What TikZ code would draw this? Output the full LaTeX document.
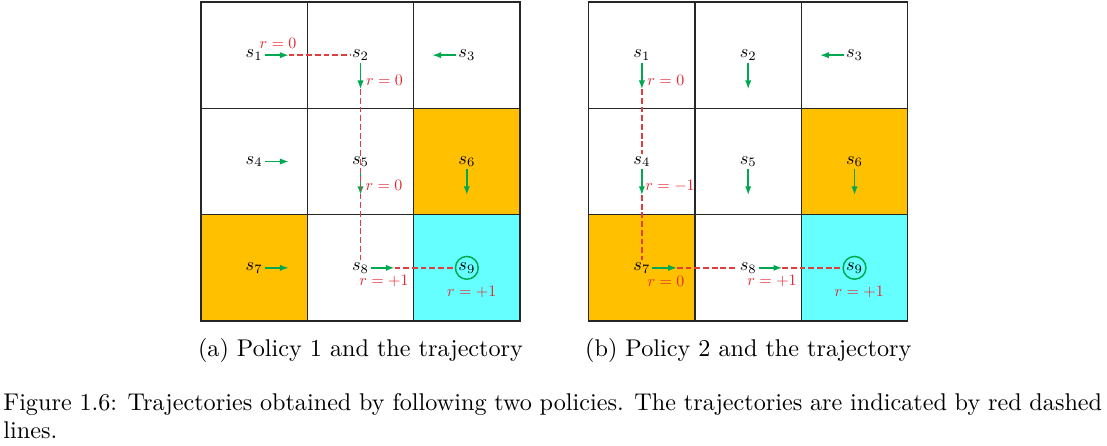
\documentclass[tikz,border=0pt]{standalone}
\usetikzlibrary{arrows.meta}
\definecolor{cellorange}{RGB}{255,192,0}
\definecolor{cellcyan}{RGB}{102,255,255}
\definecolor{polgreen}{RGB}{0,168,80}
\definecolor{trajred}{RGB}{226,40,50}
\definecolor{dashred}{RGB}{222,62,62}
\tikzset{
  gridline/.style={line width=0.6pt, draw=black!85},
  pol/.style={polgreen, line width=0.6pt, -{Latex[length=3.6pt,width=2.6pt]}},
  traj/.style={dashred, line width=0.65pt, dash pattern=on 2.4pt off 1.2pt},
  st/.style={inner sep=1pt, scale=0.76, font=\normalsize},
  rew/.style={inner sep=0pt, scale=0.66, text=trajred, font=\normalsize},
  goal/.style={circle, draw=polgreen, line width=0.6pt, scale=0.76, minimum size=12.4pt, inner sep=0pt, font=\normalsize},
  capt/.style={inner sep=0pt, anchor=base, font=\normalsize}
}
\begin{document}
\begin{tikzpicture}[x=0.4135pt, y=-0.4135pt]
\useasboundingbox (0,0) rectangle (1107,445);
\fill[white] (0,0) rectangle (1107,445);

% ---------------- grid (a) ----------------
\fill[cellorange] (413.67,108.33) rectangle (520,214.67);
\fill[cellorange] (201,214.67) rectangle (307.33,321);
\fill[cellcyan] (413.67,214.67) rectangle (520,321);
\foreach \x in {307.33,413.67} \draw[gridline] (\x,2) -- (\x,321);
\foreach \y in {108.33,214.67} \draw[gridline] (201,\y) -- (520,\y);
\draw[gridline] (201,2) rectangle (520,321);

\node[st] (a1) at (254.17,55.17) {$s_1$};
\node[st] (a2) at (360.5,55.17) {$s_2$};
\node[st] (a3) at (466.83,55.17) {$s_3$};
\node[st] (a4) at (254.17,161.5) {$s_4$};
\node[st] (a5) at (360.5,161.5) {$s_5$};
\node[st] (a6) at (466.83,161.5) {$s_6$};
\node[st] (a7) at (254.17,267.83) {$s_7$};
\node[st] (a8) at (360.5,267.83) {$s_8$};
\node[goal] (a9) at (466.83,267.83) {$s_9$};

\draw[pol] (a1.center) ++(10.5,0) -- ++(24,0) coordinate (a1t);
\draw[pol] (a2.center) ++(0,7.5) -- ++(0,26.5) coordinate (a2t);
\draw[pol] (a3.center) ++(-10.5,0) -- ++(-24,0) coordinate (a3t);
\draw[pol] (a4.center) ++(10.5,0) -- ++(24,0) coordinate (a4t);
\draw[pol] (a5.center) ++(0,7) -- ++(0,26.5) coordinate (a5t);
\draw[pol] (a6.center) ++(0,7) -- ++(0,26.5) coordinate (a6t);
\draw[pol] (a7.center) ++(10.5,0) -- ++(24,0) coordinate (a7t);
\draw[pol] (a8.center) ++(10.5,0) -- ++(23.5,0) coordinate (a8t);

\draw[traj] (a1t) -- (a2);
\draw[traj] (a2t) -- (a8);
\draw[traj] (a8t) -- (a9);

\node[rew] (ra1) at (278,43) {$r=0$};
\node[rew] (ra2) at (384.5,80) {$r=0$};
\node[rew] (ra5) at (384,185.7) {$r=0$};
\node[rew] (ra8) at (384,280.7) {$r=+1$};
\node[rew] (ra9) at (471.7,291.7) {$r=+1$};

% ---------------- grid (b) ----------------
\fill[cellorange] (801.37,108.33) rectangle (907.7,214.67);
\fill[cellorange] (588.7,214.67) rectangle (695.03,321);
\fill[cellcyan] (801.37,214.67) rectangle (907.7,321);
\foreach \x in {695.03,801.37} \draw[gridline] (\x,2) -- (\x,321);
\foreach \y in {108.33,214.67} \draw[gridline] (588.7,\y) -- (907.7,\y);
\draw[gridline] (588.7,2) rectangle (907.7,321);

\node[st] (b1) at (641.87,55.17) {$s_1$};
\node[st] (b2) at (748.2,55.17) {$s_2$};
\node[st] (b3) at (854.53,55.17) {$s_3$};
\node[st] (b4) at (641.87,161.5) {$s_4$};
\node[st] (b5) at (748.2,161.5) {$s_5$};
\node[st] (b6) at (854.53,161.5) {$s_6$};
\node[st] (b7) at (641.87,267.83) {$s_7$};
\node[st] (b8) at (748.2,267.83) {$s_8$};
\node[goal] (b9) at (854.53,267.83) {$s_9$};

\draw[pol] (b1.center) ++(0,7.5) -- ++(0,26.5) coordinate (b1t);
\draw[pol] (b2.center) ++(0,7.5) -- ++(0,26.5) coordinate (b2t);
\draw[pol] (b3.center) ++(-10.5,0) -- ++(-24,0) coordinate (b3t);
\draw[pol] (b4.center) ++(0,7) -- ++(0,26.5) coordinate (b4t);
\draw[pol] (b5.center) ++(0,7) -- ++(0,26.5) coordinate (b5t);
\draw[pol] (b6.center) ++(0,7) -- ++(0,26.5) coordinate (b6t);
\draw[pol] (b7.center) ++(10,0) -- ++(25,0) coordinate (b7t);
\draw[pol] (b8.center) ++(10.5,0) -- ++(23.5,0) coordinate (b8t);

\draw[traj] (b1t) -- (b4);
\draw[traj] (b4t) -- (b7);
\draw[traj] (b7t) -- (b8);
\draw[traj] (b8t) -- (b9);

\node[rew] (rb1) at (665.8,80) {$r=0$};
\node[rew] (rb4) at (670,185.7) {$r=-1$};
\node[rew] (rb7) at (666,281.7) {$r=0$};
\node[rew] (rb8) at (772,280.7) {$r=+1$};
\node[rew] (rb9) at (859.2,291.7) {$r=+1$};

% ---------------- captions ----------------
\node[capt] (capa) at (360.5,356) {(a) Policy 1 and the trajectory};
\node[capt] (capb) at (748.3,356) {(b) Policy 2 and the trajectory};
\node[inner sep=0pt, anchor=base west] (cap1) at (3,410)
  {\makebox[454.3pt][s]{Figure 1.6: Trajectories obtained by following two policies. The trajectories are indicated by red dashed}};
\node[inner sep=0pt, anchor=base west] (cap2) at (3,438.5) {lines.};
\end{tikzpicture}
\end{document}
